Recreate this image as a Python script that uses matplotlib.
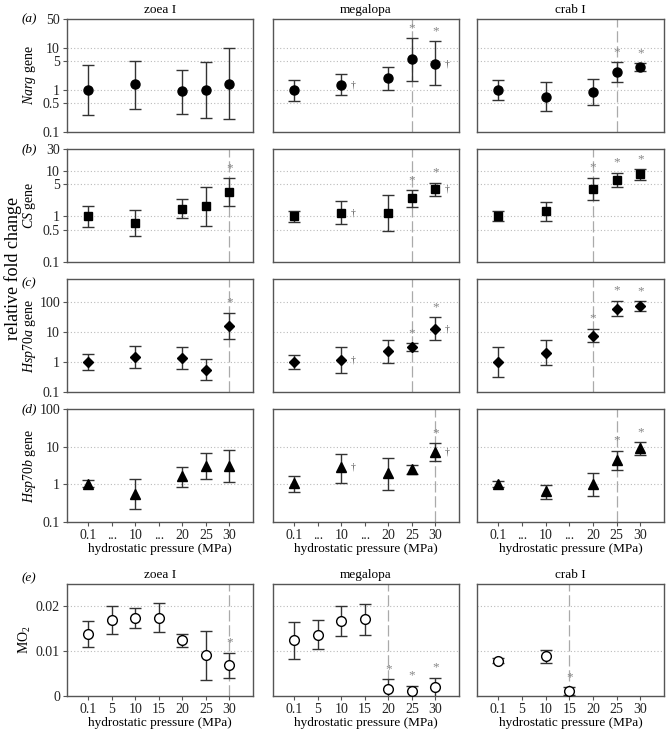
import matplotlib
matplotlib.use("Agg")
import matplotlib.pyplot as plt
import numpy as np

plt.rcParams['font.family'] = ['Liberation Serif', 'DejaVu Serif']
plt.rcParams['mathtext.fontset'] = 'custom'
plt.rcParams['mathtext.rm'] = 'Liberation Serif'
plt.rcParams['mathtext.it'] = 'Liberation Serif:italic'

stages = ["zoea I", "megalopa", "crab I"]

# x categories
gene_ticks = ["0.1", "...", "10", "...", "20", "25", "30"]
gene_idx = [0, 2, 4, 5, 6]          # 0.1, 10, 20, 25, 30
mo2_ticks = ["0.1", "5", "10", "15", "20", "25", "30"]

# ---- (a) Narg gene
narg_zoea = [1.0, 1.39, 0.93, 1.0, 1.44]
narg_zoea_lo = [0.25, 0.36, 0.27, 0.22, 0.2]
narg_zoea_hi = [4.0, 5.1, 3.1, 4.6, 10.0]
narg_mega = [1.0, 1.36, 1.92, 5.4, 4.3]
narg_mega_lo = [0.56, 0.76, 1.0, 1.63, 1.31]
narg_mega_hi = [1.79, 2.4, 3.6, 17.5, 14.9]
narg_crab = [1.0, 0.70, 0.91, 2.76, 3.62]
narg_crab_lo = [0.58, 0.31, 0.43, 1.57, 2.8]
narg_crab_hi = [1.72, 1.57, 1.82, 4.67, 4.4]

# ---- (b) CS gene
cs_zoea = [1.0, 0.70, 1.46, 1.67, 3.39]
cs_zoea_lo = [0.6, 0.37, 0.9, 0.63, 1.67]
cs_zoea_hi = [1.67, 1.36, 2.36, 4.46, 6.85]
cs_mega = [1.0, 1.21, 1.21, 2.53, 3.89]
cs_mega_lo = [0.76, 0.67, 0.49, 1.62, 2.76]
cs_mega_hi = [1.34, 2.13, 2.9, 3.75, 5.5]
cs_crab = [1.0, 1.29, 3.95, 6.3, 8.57]
cs_crab_lo = [0.79, 0.8, 2.24, 4.3, 6.4]
cs_crab_hi = [1.32, 2.02, 6.97, 9.0, 10.7]

# ---- (c) Hsp70a gene
hspa_zoea = [1.0, 1.51, 1.4, 0.55, 16.5]
hspa_zoea_lo = [0.53, 0.65, 0.61, 0.25, 6.06]
hspa_zoea_hi = [1.9, 3.5, 3.27, 1.26, 45.0]
hspa_mega = [1.0, 1.17, 2.28, 3.18, 12.8]
hspa_mega_lo = [0.57, 0.43, 0.9, 2.28, 5.3]
hspa_mega_hi = [1.72, 3.18, 5.6, 4.33, 32.0]
hspa_crab = [1.0, 2.05, 7.4, 61.0, 75.0]
hspa_crab_lo = [0.31, 0.77, 4.56, 34.0, 51.0]
hspa_crab_hi = [3.18, 5.3, 13.1, 114.0, 108.0]

# ---- (d) Hsp70b gene
hspb_zoea = [1.04, 0.56, 1.64, 3.16, 3.1]
hspb_zoea_lo = [0.85, 0.22, 0.83, 1.39, 1.13]
hspb_zoea_hi = [1.28, 1.36, 2.91, 6.77, 8.3]
hspb_mega = [1.06, 2.8, 1.97, 2.58, 7.3]
hspb_mega_lo = [0.62, 1.06, 0.72, 1.85, 4.05]
hspb_mega_hi = [1.64, 6.5, 5.0, 3.23, 12.3]
hspb_crab = [1.0, 0.65, 1.0, 4.5, 9.4]
hspb_crab_lo = [0.85, 0.42, 0.49, 2.42, 6.0]
hspb_crab_hi = [1.25, 0.96, 1.97, 7.8, 13.1]

# ---- (e) MO2
mo2_zoea_idx = [0, 1, 2, 3, 4, 5, 6]
mo2_zoea = [0.0139, 0.0170, 0.01745, 0.01745, 0.0125, 0.0091, 0.0069]
mo2_zoea_lo = [0.0110, 0.0138, 0.0152, 0.0142, 0.0109, 0.0036, 0.0041]
mo2_zoea_hi = [0.0167, 0.0202, 0.0196, 0.0207, 0.0138, 0.0146, 0.0097]
mo2_mega_idx = [0, 1, 2, 3, 4, 5, 6]
mo2_mega = [0.0125, 0.0136, 0.0168, 0.0172, 0.0015, 0.00105, 0.00195]
mo2_mega_lo = [0.0083, 0.0104, 0.0135, 0.0137, -0.001, -0.001, -0.001]
mo2_mega_hi = [0.0165, 0.0169, 0.0200, 0.0205, 0.00375, 0.0023, 0.0041]
mo2_crab_idx = [0, 2, 3]
mo2_crab = [0.0079, 0.00884, 0.00105]
mo2_crab_lo = [0.0073, 0.0073, 0.0003]
mo2_crab_hi = [0.0085, 0.0103, 0.0020]

# significance marks (category index) and dashed threshold lines
stars = [[[], [5, 6], [5, 6]],
         [[6], [5, 6], [4, 5, 6]],
         [[6], [5, 6], [4, 5, 6]],
         [[], [6], [5, 6]],
         [[6], [4, 5, 6], [3]]]
daggers = [[[], [2, 6], []]] * 4 + [[[], [], []]]
vlines = [[None, 5, 5],
          [6, 5, 4],
          [6, 5, 4],
          [None, 6, 5],
          [6, 4, 3]]

fig = plt.figure(figsize=(6.67, 7.33), dpi=100)
W, H = 667.0, 733.0

cols = [(67, 253), (273, 459), (477, 664)]
rows = [(19, 132), (149, 262), (279, 392), (409, 522), (584, 696)]

gene_rows = [
    ("$\\it{Narg}$ gene", "o", 6.5, (0.1, 50), [0.1, 0.5, 1, 5, 10, 50], [0.5, 1, 5, 10],
     [(narg_zoea, narg_zoea_lo, narg_zoea_hi), (narg_mega, narg_mega_lo, narg_mega_hi),
      (narg_crab, narg_crab_lo, narg_crab_hi)]),
    ("$\\it{CS}$ gene", "s", 5.5, (0.1, 30), [0.1, 0.5, 1, 5, 10, 30], [0.5, 1, 5, 10],
     [(cs_zoea, cs_zoea_lo, cs_zoea_hi), (cs_mega, cs_mega_lo, cs_mega_hi),
      (cs_crab, cs_crab_lo, cs_crab_hi)]),
    ("$\\it{Hsp70a}$ gene", "D", 5.5, (0.1, 600), [0.1, 1, 10, 100], [1, 10, 100],
     [(hspa_zoea, hspa_zoea_lo, hspa_zoea_hi), (hspa_mega, hspa_mega_lo, hspa_mega_hi),
      (hspa_crab, hspa_crab_lo, hspa_crab_hi)]),
    ("$\\it{Hsp70b}$ gene", "^", 6.5, (0.1, 100), [0.1, 1, 10, 100], [1, 10],
     [(hspb_zoea, hspb_zoea_lo, hspb_zoea_hi), (hspb_mega, hspb_mega_lo, hspb_mega_hi),
      (hspb_crab, hspb_crab_lo, hspb_crab_hi)]),
]
mo2_data = [(mo2_zoea_idx, mo2_zoea, mo2_zoea_lo, mo2_zoea_hi),
            (mo2_mega_idx, mo2_mega, mo2_mega_lo, mo2_mega_hi),
            (mo2_crab_idx, mo2_crab, mo2_crab_lo, mo2_crab_hi)]

spine_col = '#555555'
bar_col = '#333333'
star_col = '#888888'


def make_ax(r, c):
    x1, x2 = cols[c]
    y1, y2 = rows[r]
    ax = fig.add_axes([x1 / W, 1 - y2 / H, (x2 - x1) / W, (y2 - y1) / H])
    for s in ax.spines.values():
        s.set_color(spine_col)
        s.set_linewidth(1.0)
    ax.tick_params(colors=spine_col, labelcolor='#222222', labelsize=10,
                   length=3, width=0.8, pad=2)
    ax.set_xlim(-0.9, 7.0)
    return ax


def decorate(ax, r, c, xs, ys, his):
    if vlines[r][c] is not None:
        ax.axvline(vlines[r][c], color='#aaaaaa', lw=0.9, dashes=(9, 3), zorder=1)
    for i in stars[r][c]:
        k = xs.index(i)
        ax.annotate("*", (i, his[k]), xytext=(0, 3), textcoords='offset points',
                    ha='center', va='bottom', fontsize=9.5, color=star_col)
    for i in daggers[r][c]:
        k = xs.index(i)
        ax.annotate("\u2020", (i, ys[k]), xytext=(7, 0), textcoords='offset points',
                    ha='left', va='center', fontsize=7, color='#555555')


for r, (lab, mk, ms, ylim, yt, grid, data) in enumerate(gene_rows):
    for c in range(3):
        ax = make_ax(r, c)
        ys, lo, hi = data[c]
        ys = np.array(ys)
        err = [ys - np.array(lo), np.array(hi) - ys]
        ax.set_yscale('log')
        ax.set_ylim(*ylim)
        for g in grid:
            ax.axhline(g, color='#bbbbbb', lw=0.8, ls=(0, (1, 2)), zorder=0)
        decorate(ax, r, c, gene_idx, list(ys), hi)
        ax.errorbar(gene_idx, ys, yerr=err, fmt=mk, ms=ms, color='black',
                    ecolor=bar_col, elinewidth=1.0, capsize=4, capthick=1.0, zorder=3)
        ax.minorticks_off()
        if c == 0:
            ax.set_yticks(yt)
            ax.set_yticklabels([("%g" % v) for v in yt])
            fig.text(30 / W, 1 - (sum(rows[r]) / 2) / H, lab, rotation=90,
                     ha='center', va='center', fontsize=10)
        else:
            ax.set_yticks([])
        if r == 3:
            ax.set_xticks(range(7))
            ax.set_xticklabels(gene_ticks)
            ax.set_xlabel("hydrostatic pressure (MPa)", fontsize=9.5, labelpad=1)
        else:
            ax.set_xticks([])
        if r == 0:
            ax.set_title(stages[c], fontsize=9.5, pad=4)

for c in range(3):
    ax = make_ax(4, c)
    xs, ys, lo, hi = mo2_data[c]
    ys = np.array(ys)
    err = [ys - np.array(lo), np.array(hi) - ys]
    ax.set_ylim(0, 0.025)
    for g in [0.01, 0.02]:
        ax.axhline(g, color='#bbbbbb', lw=0.8, ls=(0, (1, 2)), zorder=0)
    decorate(ax, 4, c, xs, list(ys), hi)
    ax.errorbar(xs, ys, yerr=err, fmt='o', ms=7, mfc='white', mec='black', mew=1.0,
                color='black', ecolor=bar_col, elinewidth=1.0, capsize=4,
                capthick=1.0, zorder=3)
    ax.set_xticks(range(7))
    ax.set_xticklabels(mo2_ticks)
    ax.set_xlabel("hydrostatic pressure (MPa)", fontsize=9.5, labelpad=1)
    ax.set_title(stages[c], fontsize=9.5, pad=4)
    if c == 0:
        ax.set_yticks([0, 0.01, 0.02])
        ax.set_yticklabels(["0", "0.01", "0.02"])
        fig.text(25 / W, 1 - (sum(rows[4]) / 2) / H, "MO$_2$", rotation=90,
                 ha='center', va='center', fontsize=10)
    else:
        ax.set_yticks([])

# panel letters and common label
for lab, y in zip(["(a)", "(b)", "(c)", "(d)", "(e)"], [19, 149, 283, 409, 578]):
    fig.text(22 / W, 1 - y / H, lab, fontsize=9.5, style='italic', ha='left', va='center')
fig.text(13 / W, 1 - 268 / H, "relative fold change", rotation=90,
         ha='center', va='center', fontsize=13)

fig.savefig("out.png", dpi=100)
